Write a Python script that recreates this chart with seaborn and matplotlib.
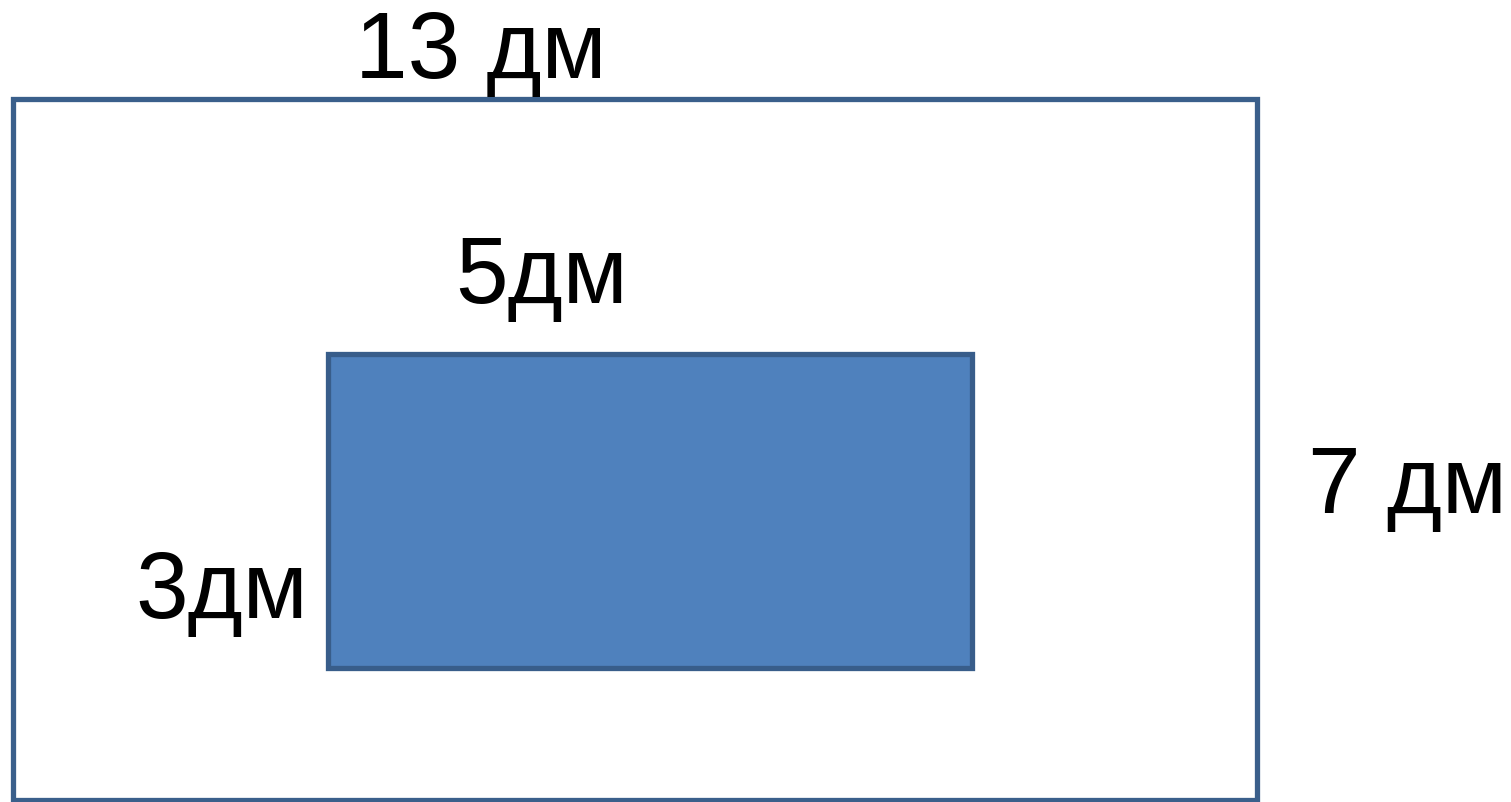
"""Outer and inner rectangle sketch with dimension labels (дм)."""

import matplotlib.pyplot as plt
import matplotlib.patches as patches
import seaborn as sns

sns.set_theme(style="white")
plt.rcParams["font.family"] = ["Liberation Sans", "DejaVu Sans"]

# dimension labels
labels = ["13 дм", "7 дм", "5дм", "3дм"]
# rectangles in canvas pixels: (left, top, width, height)
outer_box = (13, 99, 1244, 701)
inner_box = (328, 354, 644, 314)
# label anchors (left, baseline)
label_pos = [(355, 78), (1308, 513), (455, 303), (135, 618)]

EDGE = "#3a5f8b"
FILL = "#4f81bd"

fig = plt.figure(figsize=(15.11, 8.02), dpi=100)
ax = fig.add_axes([0, 0, 1, 1])
ax.set_xlim(0, 1511)
ax.set_ylim(802, 0)
ax.axis("off")

x, y, w, h = outer_box
ax.add_patch(patches.Rectangle((x, y), w, h, facecolor="white", edgecolor=EDGE, linewidth=3.8))
x, y, w, h = inner_box
ax.add_patch(patches.Rectangle((x, y), w, h, facecolor=FILL, edgecolor="#385d8a", linewidth=3.8))

for text, (tx, ty) in zip(labels, label_pos):
    ax.text(tx, ty, text, fontsize=68, color="black", ha="left", va="baseline")

fig.savefig("out.png", dpi=100)
plt.close(fig)
